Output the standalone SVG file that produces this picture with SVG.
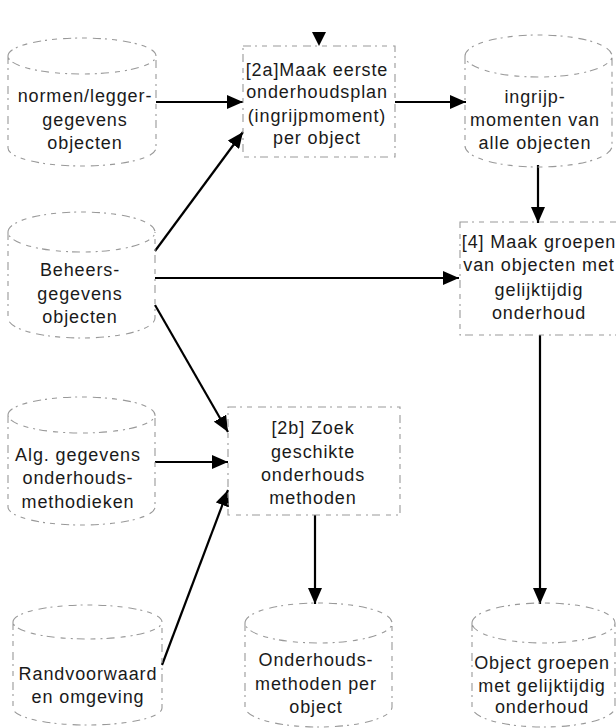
<svg xmlns="http://www.w3.org/2000/svg" width="616" height="728" viewBox="0 0 616 728">
<style>
.outline{fill:none;stroke:#999;stroke-width:1.1;stroke-dasharray:8 4 2 5 5 6}
.conn{fill:none;stroke:#000;stroke-width:2.2}
text{font-family:"Liberation Sans",Arial,sans-serif;font-size:18px;letter-spacing:0.9px;fill:#1a1a1a;text-anchor:middle}
</style>
<defs>
<marker id="ah" markerUnits="userSpaceOnUse" markerWidth="16" markerHeight="14" viewBox="0 0 16 14" refX="16" refY="7" orient="auto">
<path d="M0,0 L16,7 L0,14 Z" fill="#000"/>
</marker>
</defs>
<rect width="616" height="728" fill="#fff"/>

<g id="connectors">
<line class="conn" x1="156" y1="102" x2="243" y2="102" marker-end="url(#ah)"/>
<line class="conn" x1="155" y1="251" x2="243" y2="132" marker-end="url(#ah)"/>
<line class="conn" x1="395" y1="102" x2="466" y2="102" marker-end="url(#ah)"/>
<line class="conn" x1="538" y1="165" x2="538" y2="223" marker-end="url(#ah)"/>
<line class="conn" x1="155" y1="278" x2="459" y2="278" marker-end="url(#ah)"/>
<line class="conn" x1="155" y1="305" x2="228" y2="432" marker-end="url(#ah)"/>
<line class="conn" x1="155" y1="462" x2="228" y2="462" marker-end="url(#ah)"/>
<line class="conn" x1="162" y1="665" x2="228" y2="490" marker-end="url(#ah)"/>
<line class="conn" x1="315" y1="515" x2="315" y2="604" marker-end="url(#ah)"/>
<line class="conn" x1="540" y1="335" x2="540" y2="604" marker-end="url(#ah)"/>
<path d="M312,32 L326,32 L319,46 Z" fill="#000"/>
</g>

<g id="n-normen">
<path class="outline" d="M8,56 A74,18 0 0 1 156,56 A74,18 0 0 1 8,56 M8,56 V148 A74,18 0 0 0 156,148 V56"/>
<text x="85" y="102">normen/legger-</text>
<text x="85" y="126">gegevens</text>
<text x="85" y="149">objecten</text>
</g>

<g id="n-beheers">
<path class="outline" d="M8,232 A73.5,20 0 0 1 155,232 A73.5,20 0 0 1 8,232 M8,232 V318 A73.5,20 0 0 0 155,318 V232"/>
<text x="80" y="276">Beheers-</text>
<text x="80" y="300">gegevens</text>
<text x="80" y="323">objecten</text>
</g>

<g id="n-alg">
<path class="outline" d="M8,415 A73.5,18 0 0 1 155,415 A73.5,18 0 0 1 8,415 M8,415 V507 A73.5,18 0 0 0 155,507 V415"/>
<text x="78" y="461">Alg. gegevens</text>
<text x="78" y="484">onderhouds-</text>
<text x="78" y="508">methodieken</text>
</g>

<g id="n-rand">
<path class="outline" d="M13,622 A74.5,17 0 0 1 162,622 A74.5,17 0 0 1 13,622 M13,622 V708 A74.5,17 0 0 0 162,708 V622"/>
<text x="88" y="680">Randvoorwaard</text>
<text x="88" y="703">en omgeving</text>
</g>

<g id="n-2a">
<rect class="outline" x="243" y="46" width="152" height="111"/>
<text x="317" y="76">[2a]Maak eerste</text>
<text x="317" y="98">onderhoudsplan</text>
<text x="317" y="122">(ingrijpmoment)</text>
<text x="317" y="144">per object</text>
</g>

<g id="n-ingrijp">
<path class="outline" d="M465,56 A73.5,21 0 0 1 612,56 A73.5,21 0 0 1 465,56 M465,56 V146 A73.5,21 0 0 0 612,146 V56"/>
<text x="535" y="103">ingrijp-</text>
<text x="535" y="126">momenten van</text>
<text x="535" y="149">alle objecten</text>
</g>

<g id="n-4">
<rect class="outline" x="460" y="222" width="160" height="113"/>
<text x="539" y="248">[4] Maak groepen</text>
<text x="539" y="271">van objecten met</text>
<text x="539" y="296">gelijktijdig</text>
<text x="539" y="319">onderhoud</text>
</g>

<g id="n-2b">
<rect class="outline" x="228" y="407" width="172" height="108"/>
<text x="313" y="434">[2b] Zoek</text>
<text x="313" y="458">geschikte</text>
<text x="313" y="481">onderhouds</text>
<text x="313" y="504">methoden</text>
</g>

<g id="n-methoden">
<path class="outline" d="M245,623 A73.5,20 0 0 1 392,623 A73.5,20 0 0 1 245,623 M245,623 V707 A73.5,20 0 0 0 392,707 V623"/>
<text x="316" y="666">Onderhouds-</text>
<text x="316" y="690">methoden per</text>
<text x="316" y="713">object</text>
</g>

<g id="n-groepen">
<path class="outline" d="M472,623 A71.5,20 0 0 1 615,623 A71.5,20 0 0 1 472,623 M472,623 V707 A71.5,20 0 0 0 615,707 V623"/>
<text x="542" y="669">Object groepen</text>
<text x="542" y="692">met gelijktijdig</text>
<text x="542" y="713">onderhoud</text>
</g>
</svg>
